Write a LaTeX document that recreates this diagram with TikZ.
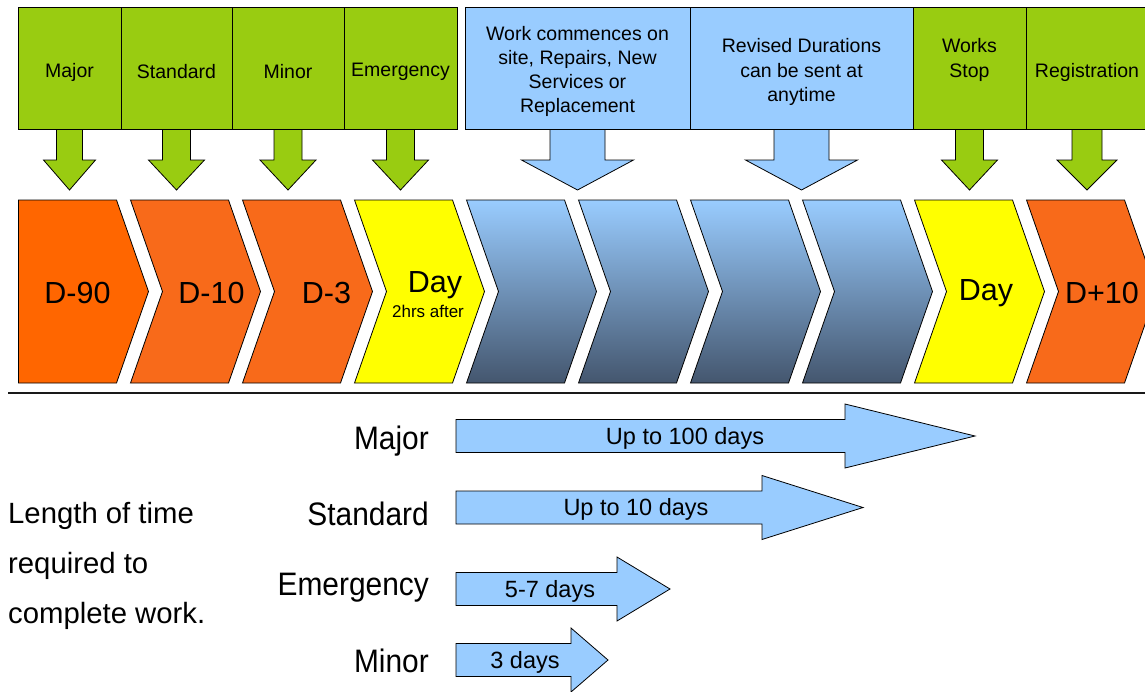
\documentclass[tikz,border=0pt]{standalone}
\usepackage{fontspec}
\setmainfont{Liberation Sans}
\newfontfamily\narrowfont[FakeStretch=0.92]{Liberation Sans}
\definecolor{tgreen}{HTML}{99CC11}
\definecolor{lblue}{HTML}{99CCFF}
\definecolor{dslate}{HTML}{44566E}
\definecolor{orangeA}{HTML}{FF6600}
\definecolor{orangeB}{HTML}{F86A1A}
\definecolor{yel}{HTML}{FFFF00}
\tikzset{
  outl/.style={draw=black, line width=0.8pt, line join=miter},
  topbox/.style={outl},
  toptext/.style={align=center, font=\fontsize{19.5}{24.3}\selectfont, inner sep=0pt},
  chevtext/.style={font=\fontsize{30.5}{34}\selectfont, inner sep=0pt},
  lbltext/.style={font=\narrowfont\fontsize{32.5}{36}\selectfont, inner sep=0pt, anchor=east},
  arrtext/.style={font=\fontsize{23.5}{27}\selectfont, inner sep=0pt},
}
% down arrow: #1 centre x, #2 half shaft, #3 half head, #4 fill
\newcommand\darr[4]{\draw[outl, fill=#4] ({#1-#2},129) -- ({#1-#2},160) -- ({#1-#3},160) -- (#1,190) -- ({#1+#3},160) -- ({#1+#2},160) -- ({#1+#2},129);}
% chevron: #1 left x, #2 style, #3 notch depth
\newcommand\chev[3]{\draw[outl, #2] (#1,200) -- ({#1+98},200) -- ({#1+130},291.5) -- ({#1+98},383) -- (#1,383) -- ({#1+#3},291.5) -- cycle;}
% right arrow: #1 centre y, #2 head x, #3 tip x
\newcommand\rarr[3]{\draw[outl, fill=lblue] (456,{#1-16.5}) -- (#2,{#1-16.5}) -- (#2,{#1-32}) -- (#3,#1) -- (#2,{#1+32}) -- (#2,{#1+16.5}) -- (456,{#1+16.5}) -- cycle;}
\begin{document}
\begin{tikzpicture}[x=1pt,y=-1pt]
\useasboundingbox (0,0) rectangle (1145,691);
\clip (0,0) rectangle (1145,691);
\fill[white] (0,0) rectangle (1145,691);
% down arrows
\darr{69.5}{13}{26}{tgreen}
\darr{176.5}{14}{28}{tgreen}
\darr{288}{14}{28}{tgreen}
\darr{400.5}{14}{28}{tgreen}
\darr{577.5}{27.5}{56}{lblue}
\darr{801.5}{27.5}{56}{lblue}
\darr{969.5}{14}{28}{tgreen}
\darr{1087}{15}{30}{tgreen}
% top boxes
\draw[topbox, fill=tgreen] (18,7) rectangle (121,129);
\draw[topbox, fill=tgreen] (121,7) rectangle (232,129);
\draw[topbox, fill=tgreen] (232,7) rectangle (344,129);
\draw[topbox, fill=tgreen] (344,7) rectangle (457,129);
\draw[topbox, fill=lblue] (465,7) rectangle (690,129);
\draw[topbox, fill=lblue] (690,7) rectangle (913,129);
\draw[topbox, fill=tgreen] (913,7) rectangle (1026,129);
\draw[topbox, fill=tgreen] (1026,7) rectangle (1152,129);
\node[toptext] (tmajor) at (69.5,72) {Major};
\node[toptext] (tstandard) at (176.5,72) {Standard};
\node[toptext] (tminor) at (288,72) {Minor};
\node[toptext] (temerg) at (400.5,72) {Emergency};
\node[toptext] (twork) at (577.5,71.5) {Work commences on\\site, Repairs, New\\Services or\\Replacement};
\node[toptext] (trevised) at (801.5,72) {Revised Durations\\can be sent at\\anytime};
\node[toptext] (tstop) at (969.5,60) {Works\\Stop};
\node[toptext] (treg) at (1087,72) {Registration};
% chevrons
\chev{18.5}{fill=orangeA}{0}
\chev{130.5}{fill=orangeB}{32}
\chev{242.5}{fill=orangeB}{32}
\chev{354.5}{fill=yel}{32}
\chev{466.5}{top color=lblue, bottom color=dslate}{32}
\chev{578.5}{top color=lblue, bottom color=dslate}{32}
\chev{690.5}{top color=lblue, bottom color=dslate}{32}
\chev{802.5}{top color=lblue, bottom color=dslate}{32}
\chev{914.5}{fill=yel}{32}
\chev{1026.5}{fill=orangeB}{32}
\node[chevtext] (c1) at (77.5,293) {D-90};
\node[chevtext] (c2) at (211.5,293) {D-10};
\node[chevtext] (c3) at (326.5,293) {D-3};
\node[chevtext] (c4) at (435,285) {Day};
\node[font=\fontsize{17}{19}\selectfont, inner sep=0pt] (c4s) at (428,311.5) {2hrs after};
\node[chevtext] (c9) at (986,293.5) {Day};
\node[chevtext] (c10) at (1102,293) {D+10};
% separator
\draw[line width=1.5pt, black!90] (8,393) -- (1150,393);
% bottom
\node[font=\fontsize{29.3}{50}\selectfont, align=left, anchor=north west, inner sep=0pt] (len) at (8,502) {Length of time\\required to\\complete work.};
\node[lbltext] (lmajor) at (429,441) {Major};
\node[lbltext] (lstandard) at (429,514) {Standard};
\node[lbltext] (lemerg) at (429,588) {Emergency};
\node[lbltext] (lminor) at (429,661) {Minor};
\rarr{436}{845}{975}
\rarr{507.5}{762}{863}
\rarr{589}{617}{670}
\rarr{660}{571}{608}
\node[arrtext] (amajor) at (685,438.5) {Up to 100 days};
\node[arrtext] (astandard) at (636,509.5) {Up to 10 days};
\node[arrtext] (aemerg) at (550,591.5) {5-7 days};
\node[arrtext] (aminor) at (525,662.5) {3 days};
\end{tikzpicture}
\end{document}
